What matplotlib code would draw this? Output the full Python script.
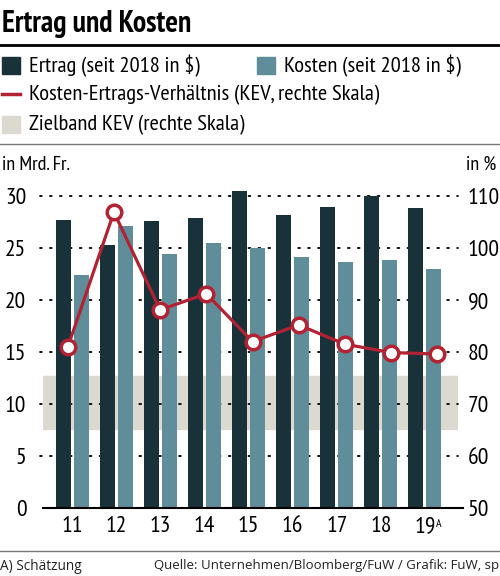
import matplotlib
matplotlib.use("Agg")
import matplotlib.pyplot as plt
from matplotlib.patches import Rectangle
from matplotlib.lines import Line2D

plt.rcParams['font.family'] = ['PT Sans Narrow', 'DejaVu Sans']

# ---- data ----
years = ["11", "12", "13", "14", "15", "16", "17", "18", "19"]
ertrag = [27.7, 25.3, 27.6, 27.9, 30.5, 28.2, 28.9, 30.0, 28.85]
kosten = [22.4, 27.1, 24.4, 25.5, 25.0, 24.1, 23.7, 23.8, 22.95]
kev = [80.9, 106.9, 88.1, 91.2, 82.0, 85.2, 81.5, 79.9, 79.6]
band_low, band_high = 65.2, 75.4
left_ticks = [0, 5, 10, 15, 20, 25, 30]
right_ticks = [50, 60, 70, 80, 90, 100, 110]

C_DARK = "#19323a"
C_LIGHT = "#608d9a"
C_RED = "#b32232"
C_BAND = "#dcd9d0"

W, H = 500, 576
fig = plt.figure(figsize=(W / 100, H / 100), dpi=100)

def fx(px):
    return px / W

def fy(py):
    return 1 - py / H

# axes box in pixels
ax_l, ax_r, ax_b, ax_t = 43, 458, 508, 175.2
ax = fig.add_axes([fx(ax_l), fy(ax_b), (ax_r - ax_l) / W, (ax_b - ax_t) / H])
ax.set_xlim(-0.67, 8.75)
ax.set_ylim(0, 32)

x = list(range(len(years)))
bw = 0.34
off = 0.204
ax.bar([i - off for i in x], ertrag, width=bw, color=C_DARK, zorder=3)
ax.bar([i + off for i in x], kosten, width=bw, color=C_LIGHT, zorder=3)

# right scale (shares x with bars)
axr = ax.twinx()
axr.set_ylim(50, 50 + 32 * 2)
axr.axhspan(band_low, band_high, color=C_BAND, zorder=0)
ax.set_zorder(axr.get_zorder() + 1)
ax.patch.set_visible(False)

for v in left_ticks[1:]:
    ax.axhline(v, xmin=-0.008, xmax=1.0, color="black", lw=1.3,
               dashes=(1, 4.5), dash_capstyle="round", zorder=2, clip_on=False)

ax.set_yticks(left_ticks)
ax.set_yticklabels([str(v) for v in left_ticks])
axr.set_yticks(right_ticks)
axr.set_yticklabels([str(v) for v in right_ticks])
ax.set_xticks(x)
ax.set_xticklabels(years)

for a in (ax, axr):
    for s in a.spines.values():
        s.set_visible(False)
ax.tick_params(axis='both', length=0, labelsize=17)
ax.tick_params(axis='y', pad=12)
ax.tick_params(axis='x', pad=6)
axr.tick_params(axis='y', length=0, labelsize=17, pad=7)

# baseline
ax.add_line(Line2D([-0.67, 8.75 + 0.12], [0, 0], color="black", lw=1.5,
                   clip_on=False, zorder=5))

# superscript A on 19
ax.annotate("A", xy=(8, 0), xytext=(8, -8), textcoords="offset points",
            fontsize=8.5, ha="left", va="top", annotation_clip=False)

# line on its own horizontal scale, drawn above bars
axl = fig.add_axes(ax.get_position())
axl.set_zorder(ax.get_zorder() + 1)
axl.patch.set_visible(False)
axl.set_xlim(-0.535, 8.448)
axl.set_ylim(50, 114)
axl.axis("off")
axl.plot(x, kev, color=C_RED, lw=2.3, marker="o", markersize=10.5,
         markerfacecolor="white", markeredgecolor=C_RED, markeredgewidth=2.5,
         zorder=6, clip_on=False)

# ---- header ----
fig.text(fx(2), fy(24), "Ertrag und Kosten", fontsize=21.5, fontweight="bold",
         ha="left", va="center")
fig.add_artist(Line2D([0, 1], [fy(45), fy(45)], color="black", lw=2))

def sq(px, py, color):
    fig.add_artist(Rectangle((fx(px), fy(py + 17)), 18 / W, 17 / H,
                             color=color, transform=fig.transFigure))

LFS = 16.2
sq(2, 57, C_DARK)
fig.text(fx(29), fy(66), "Ertrag (seit 2018 in $)", fontsize=LFS,
         ha="left", va="center")
sq(257, 57, C_LIGHT)
fig.text(fx(284), fy(66), "Kosten (seit 2018 in $)", fontsize=LFS,
         ha="left", va="center")
fig.add_artist(Line2D([fx(2), fx(20)], [fy(94), fy(94)], color=C_RED, lw=2.5))
fig.text(fx(29), fy(95), "Kosten-Ertrags-Verhältnis (KEV, rechte Skala)",
         fontsize=LFS, ha="left", va="center")
sq(2, 116, C_BAND)
fig.text(fx(29), fy(125), "Zielband KEV (rechte Skala)", fontsize=LFS,
         ha="left", va="center")
fig.add_artist(Line2D([0, 1], [fy(144), fy(144)], color="#777777", lw=1))

fig.text(fx(2), fy(165), "in Mrd. Fr.", fontsize=14.5, ha="left", va="center")
fig.text(fx(496), fy(165), "in %", fontsize=14.5, ha="right", va="center")

# ---- footer ----
fig.add_artist(Line2D([0, 1], [fy(551), fy(551)], color="#777777", lw=1))
fig.text(fx(0), fy(566), "A) Schätzung", fontsize=9.8, family="Open Sans",
         ha="left", va="center", color="#222222")
fig.text(fx(499), fy(566), "Quelle: Unternehmen/Bloomberg/FuW / Grafik: FuW, sp",
         fontsize=9.5, family="Open Sans", ha="right", va="center",
         color="#222222")

fig.savefig("out.png", dpi=100)
